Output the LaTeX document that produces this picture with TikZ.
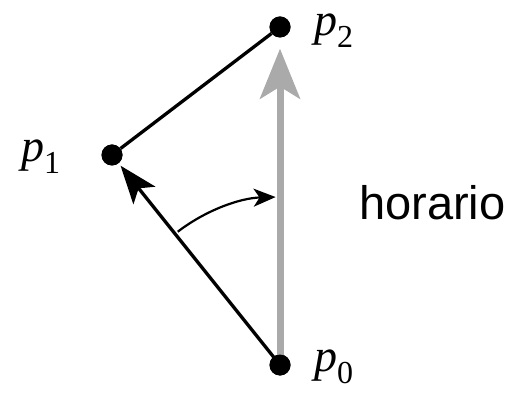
\documentclass[tikz,border=0pt]{standalone}
\usepackage{fontspec}
\setmainfont{Liberation Serif}
\newfontfamily\hlv{Liberation Sans}
\usetikzlibrary{arrows.meta}
\newcommand{\plab}[1]{{\fontsize{46}{46}\selectfont\itshape p}{\fontsize{32}{32}\selectfont\raisebox{-12pt}{#1}}}
\tikzset{
  dot/.style={circle,fill=black,minimum size=21pt,inner sep=0pt},
  lab/.style={anchor=base west,inner sep=0pt},
  blk/.style={line width=3.3pt,black},
}
\begin{document}
\begin{tikzpicture}[x=1pt,y=1pt]
\useasboundingbox (0,0) rectangle (510,393);
\node[dot] (p2) at (280,366) {};
\node[dot] (p1) at (112,238) {};
\node[dot] (p0) at (280,28) {};
\draw[line width=7pt,color={rgb,255:red,170;green,170;blue,170},-{Stealth[length=50pt,width=40pt,inset=12pt]},shorten >=11pt] (p0.center) -- (p2);
\draw[blk] (p1) -- (p2);
\draw[blk,-{Stealth[length=38pt,width=28pt,inset=9pt]},shorten >=3pt] (p0.center) -- (p1);
\coordinate (arcstart) at ([shift={(127.5:168)}]p0.center);
\draw[line width=2.2pt,-{Stealth[length=22pt,width=18pt,inset=6pt]}] (arcstart) arc[start angle=127.5,end angle=91.5,radius=168];
\node[dot] at (p2) {};
\node[dot] at (p1) {};
\node[dot] at (p0) {};
\node[lab] (l2) at (314,357) {\plab{2}};
\node[lab] (l1) at (21,231) {\plab{1}};
\node[lab] (l0) at (314,22) {\plab{0}};
\node[lab,font=\hlv\fontsize{47}{47}\selectfont] (hor) at (359,173) {horario};
\end{tikzpicture}
\end{document}
